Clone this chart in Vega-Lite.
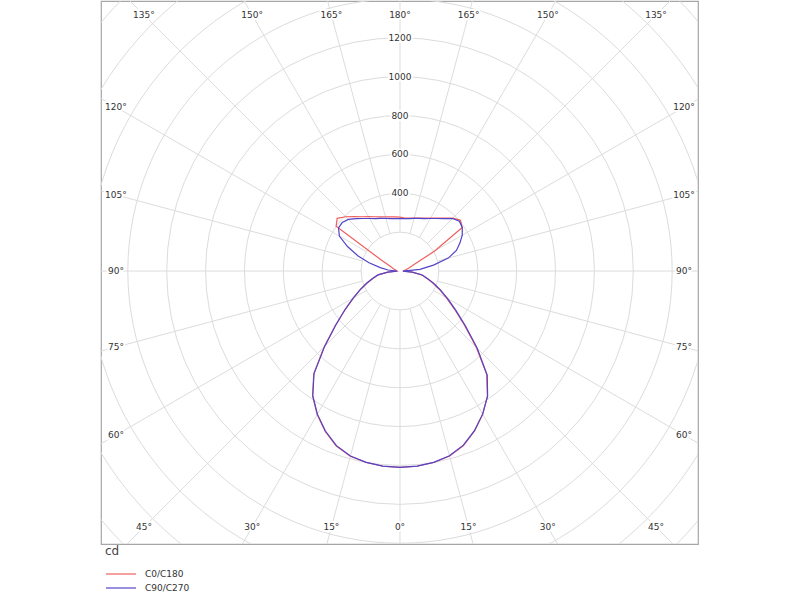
{
  "$schema": "https://vega.github.io/schema/vega-lite/v6.json",
  "width": 597,
  "height": 543,
  "autosize": {"type": "none"},
  "padding": {"left": 101, "top": 1, "right": 102, "bottom": 56},
  "background": "white",
  "config": {"view": {"stroke": "#a6a6a6", "strokeWidth": 1.2}, "font": "DejaVu Sans"},
  "datasets": {
    "rings": [{"r": 200}, {"r": 400}, {"r": 600}, {"r": 800}, {"r": 1000}, {"r": 1200}, {"r": 1400}, {"r": 1600}, {"r": 1800}, {"r": 2000}],
    "ringLabels": [{"r": 400}, {"r": 600}, {"r": 800}, {"r": 1000}, {"r": 1200}],
    "spokes": [{"a": -165}, {"a": -150}, {"a": -135}, {"a": -120}, {"a": -105}, {"a": -90}, {"a": -75}, {"a": -60}, {"a": -45}, {"a": -30}, {"a": -15}, {"a": 0}, {"a": 15}, {"a": 30}, {"a": 45}, {"a": 60}, {"a": 75}, {"a": 90}, {"a": 105}, {"a": 120}, {"a": 135}, {"a": 150}, {"a": 165}, {"a": 180}],
    "curves": [
      {"series": "C0/C180", "gamma": -180, "cd": 277}, {"series": "C0/C180", "gamma": -175, "cd": 280}, {"series": "C0/C180", "gamma": -170, "cd": 283}, {"series": "C0/C180", "gamma": -165, "cd": 289}, {"series": "C0/C180", "gamma": -160, "cd": 297}, {"series": "C0/C180", "gamma": -155, "cd": 308}, {"series": "C0/C180", "gamma": -150, "cd": 323}, {"series": "C0/C180", "gamma": -145, "cd": 341}, {"series": "C0/C180", "gamma": -140, "cd": 365}, {"series": "C0/C180", "gamma": -135, "cd": 395}, {"series": "C0/C180", "gamma": -130, "cd": 422}, {"series": "C0/C180", "gamma": -125, "cd": 401}, {"series": "C0/C180", "gamma": -120, "cd": 103}, {"series": "C0/C180", "gamma": -115, "cd": 51}, {"series": "C0/C180", "gamma": -110, "cd": 36}, {"series": "C0/C180", "gamma": -105, "cd": 26}, {"series": "C0/C180", "gamma": -100, "cd": 21}, {"series": "C0/C180", "gamma": -95, "cd": 18}, {"series": "C0/C180", "gamma": -90, "cd": 15},
      {"series": "C0/C180", "gamma": -85, "cd": 62}, {"series": "C0/C180", "gamma": -80, "cd": 113}, {"series": "C0/C180", "gamma": -75, "cd": 142}, {"series": "C0/C180", "gamma": -70, "cd": 180}, {"series": "C0/C180", "gamma": -65, "cd": 224}, {"series": "C0/C180", "gamma": -60, "cd": 276}, {"series": "C0/C180", "gamma": -55, "cd": 343}, {"series": "C0/C180", "gamma": -50, "cd": 432}, {"series": "C0/C180", "gamma": -45, "cd": 552}, {"series": "C0/C180", "gamma": -40, "cd": 690}, {"series": "C0/C180", "gamma": -35, "cd": 784}, {"series": "C0/C180", "gamma": -30, "cd": 852}, {"series": "C0/C180", "gamma": -25, "cd": 910}, {"series": "C0/C180", "gamma": -20, "cd": 958}, {"series": "C0/C180", "gamma": -15, "cd": 986}, {"series": "C0/C180", "gamma": -10, "cd": 1000}, {"series": "C0/C180", "gamma": -5, "cd": 1008}, {"series": "C0/C180", "gamma": 0, "cd": 1010},
      {"series": "C0/C180", "gamma": 5, "cd": 1008}, {"series": "C0/C180", "gamma": 10, "cd": 1000}, {"series": "C0/C180", "gamma": 15, "cd": 985}, {"series": "C0/C180", "gamma": 20, "cd": 955}, {"series": "C0/C180", "gamma": 25, "cd": 908}, {"series": "C0/C180", "gamma": 30, "cd": 851}, {"series": "C0/C180", "gamma": 35, "cd": 784}, {"series": "C0/C180", "gamma": 40, "cd": 694}, {"series": "C0/C180", "gamma": 45, "cd": 555}, {"series": "C0/C180", "gamma": 50, "cd": 432}, {"series": "C0/C180", "gamma": 55, "cd": 343}, {"series": "C0/C180", "gamma": 60, "cd": 276}, {"series": "C0/C180", "gamma": 65, "cd": 224}, {"series": "C0/C180", "gamma": 70, "cd": 180}, {"series": "C0/C180", "gamma": 75, "cd": 142}, {"series": "C0/C180", "gamma": 80, "cd": 113}, {"series": "C0/C180", "gamma": 85, "cd": 62}, {"series": "C0/C180", "gamma": 90, "cd": 15},
      {"series": "C0/C180", "gamma": 95, "cd": 20}, {"series": "C0/C180", "gamma": 100, "cd": 26}, {"series": "C0/C180", "gamma": 105, "cd": 36}, {"series": "C0/C180", "gamma": 110, "cd": 51}, {"series": "C0/C180", "gamma": 115, "cd": 82}, {"series": "C0/C180", "gamma": 120, "cd": 206}, {"series": "C0/C180", "gamma": 125, "cd": 391}, {"series": "C0/C180", "gamma": 130, "cd": 406}, {"series": "C0/C180", "gamma": 135, "cd": 385}, {"series": "C0/C180", "gamma": 140, "cd": 356}, {"series": "C0/C180", "gamma": 145, "cd": 333}, {"series": "C0/C180", "gamma": 150, "cd": 315}, {"series": "C0/C180", "gamma": 155, "cd": 301}, {"series": "C0/C180", "gamma": 160, "cd": 290}, {"series": "C0/C180", "gamma": 165, "cd": 282}, {"series": "C0/C180", "gamma": 170, "cd": 277}, {"series": "C0/C180", "gamma": 175, "cd": 274}, {"series": "C0/C180", "gamma": 180, "cd": 277},
      {"series": "C90/C270", "gamma": -180, "cd": 270}, {"series": "C90/C270", "gamma": -175, "cd": 271}, {"series": "C90/C270", "gamma": -170, "cd": 274}, {"series": "C90/C270", "gamma": -165, "cd": 280}, {"series": "C90/C270", "gamma": -160, "cd": 288}, {"series": "C90/C270", "gamma": -155, "cd": 298}, {"series": "C90/C270", "gamma": -150, "cd": 312}, {"series": "C90/C270", "gamma": -145, "cd": 330}, {"series": "C90/C270", "gamma": -140, "cd": 352}, {"series": "C90/C270", "gamma": -135, "cd": 376}, {"series": "C90/C270", "gamma": -130, "cd": 388}, {"series": "C90/C270", "gamma": -125, "cd": 386}, {"series": "C90/C270", "gamma": -120, "cd": 360}, {"series": "C90/C270", "gamma": -115, "cd": 298}, {"series": "C90/C270", "gamma": -110, "cd": 231}, {"series": "C90/C270", "gamma": -105, "cd": 165}, {"series": "C90/C270", "gamma": -100, "cd": 103}, {"series": "C90/C270", "gamma": -95, "cd": 62}, {"series": "C90/C270", "gamma": -90, "cd": 15},
      {"series": "C90/C270", "gamma": -85, "cd": 64}, {"series": "C90/C270", "gamma": -80, "cd": 115}, {"series": "C90/C270", "gamma": -75, "cd": 145}, {"series": "C90/C270", "gamma": -70, "cd": 183}, {"series": "C90/C270", "gamma": -65, "cd": 226}, {"series": "C90/C270", "gamma": -60, "cd": 278}, {"series": "C90/C270", "gamma": -55, "cd": 345}, {"series": "C90/C270", "gamma": -50, "cd": 430}, {"series": "C90/C270", "gamma": -45, "cd": 548}, {"series": "C90/C270", "gamma": -40, "cd": 688}, {"series": "C90/C270", "gamma": -35, "cd": 782}, {"series": "C90/C270", "gamma": -30, "cd": 850}, {"series": "C90/C270", "gamma": -25, "cd": 908}, {"series": "C90/C270", "gamma": -20, "cd": 956}, {"series": "C90/C270", "gamma": -15, "cd": 985}, {"series": "C90/C270", "gamma": -10, "cd": 999}, {"series": "C90/C270", "gamma": -5, "cd": 1007}, {"series": "C90/C270", "gamma": 0, "cd": 1010},
      {"series": "C90/C270", "gamma": 5, "cd": 1007}, {"series": "C90/C270", "gamma": 10, "cd": 999}, {"series": "C90/C270", "gamma": 15, "cd": 984}, {"series": "C90/C270", "gamma": 20, "cd": 953}, {"series": "C90/C270", "gamma": 25, "cd": 906}, {"series": "C90/C270", "gamma": 30, "cd": 850}, {"series": "C90/C270", "gamma": 35, "cd": 786}, {"series": "C90/C270", "gamma": 40, "cd": 698}, {"series": "C90/C270", "gamma": 45, "cd": 562}, {"series": "C90/C270", "gamma": 50, "cd": 440}, {"series": "C90/C270", "gamma": 55, "cd": 350}, {"series": "C90/C270", "gamma": 60, "cd": 282}, {"series": "C90/C270", "gamma": 65, "cd": 229}, {"series": "C90/C270", "gamma": 70, "cd": 184}, {"series": "C90/C270", "gamma": 75, "cd": 146}, {"series": "C90/C270", "gamma": 80, "cd": 116}, {"series": "C90/C270", "gamma": 85, "cd": 64}, {"series": "C90/C270", "gamma": 90, "cd": 15},
      {"series": "C90/C270", "gamma": 95, "cd": 103}, {"series": "C90/C270", "gamma": 100, "cd": 175}, {"series": "C90/C270", "gamma": 105, "cd": 257}, {"series": "C90/C270", "gamma": 110, "cd": 309}, {"series": "C90/C270", "gamma": 115, "cd": 340}, {"series": "C90/C270", "gamma": 120, "cd": 370}, {"series": "C90/C270", "gamma": 125, "cd": 391}, {"series": "C90/C270", "gamma": 130, "cd": 399}, {"series": "C90/C270", "gamma": 135, "cd": 382}, {"series": "C90/C270", "gamma": 140, "cd": 352}, {"series": "C90/C270", "gamma": 145, "cd": 330}, {"series": "C90/C270", "gamma": 150, "cd": 312}, {"series": "C90/C270", "gamma": 155, "cd": 298}, {"series": "C90/C270", "gamma": 160, "cd": 288}, {"series": "C90/C270", "gamma": 165, "cd": 280}, {"series": "C90/C270", "gamma": 170, "cd": 274}, {"series": "C90/C270", "gamma": 175, "cd": 271}, {"series": "C90/C270", "gamma": 180, "cd": 270}
    ]
  },
  "layer": [
    {
      "data": {"name": "rings"},
      "mark": {"type": "arc", "theta": 0, "theta2": 6.2832, "filled": false, "stroke": "#dcdcdc", "strokeWidth": 1, "clip": true},
      "encoding": {
        "x": {"datum": 0, "type": "quantitative", "scale": {"domain": [-1538, 1533], "nice": false, "zero": false}, "axis": null},
        "y": {"datum": 0, "type": "quantitative", "scale": {"domain": [-1404, 1389], "nice": false, "zero": false}, "axis": null},
        "radius": {"field": "r", "type": "quantitative", "stack": null, "scale": {"type": "linear", "domain": [0, 1538], "range": [0, 299]}, "legend": null}
      }
    },
    {
      "data": {"name": "spokes"},
      "transform": [
        {"calculate": "datum.a*PI/180", "as": "rad"},
        {"calculate": "200*sin(datum.rad)", "as": "x"},
        {"calculate": "-200*cos(datum.rad)", "as": "y"},
        {"calculate": "2600*sin(datum.rad)", "as": "xe"},
        {"calculate": "-2600*cos(datum.rad)", "as": "ye"}
      ],
      "mark": {"type": "rule", "stroke": "#dcdcdc", "strokeWidth": 1, "clip": true},
      "encoding": {
        "x": {"field": "x", "type": "quantitative", "scale": {"domain": [-1538, 1533], "nice": false, "zero": false}, "axis": null},
        "y": {"field": "y", "type": "quantitative", "scale": {"domain": [-1404, 1389], "nice": false, "zero": false}, "axis": null},
        "x2": {"field": "xe"},
        "y2": {"field": "ye"}
      }
    },
    {
      "data": {"name": "ringLabels"},
      "mark": {"type": "text", "fontSize": 9, "font": "DejaVu Sans", "fill": "white", "stroke": "white", "strokeWidth": 4, "align": "center", "baseline": "middle"},
      "encoding": {
        "x": {"datum": 0, "type": "quantitative", "scale": {"domain": [-1538, 1533], "nice": false, "zero": false}, "axis": null},
        "y": {"field": "r", "type": "quantitative", "scale": {"domain": [-1404, 1389], "nice": false, "zero": false}, "axis": null},
        "text": {"field": "r", "type": "quantitative", "format": "d"}
      }
    },
    {
      "data": {"name": "ringLabels"},
      "mark": {"type": "text", "fontSize": 9, "font": "DejaVu Sans", "fill": "#333333", "align": "center", "baseline": "middle"},
      "encoding": {
        "x": {"datum": 0, "type": "quantitative", "scale": {"domain": [-1538, 1533], "nice": false, "zero": false}, "axis": null},
        "y": {"field": "r", "type": "quantitative", "scale": {"domain": [-1404, 1389], "nice": false, "zero": false}, "axis": null},
        "text": {"field": "r", "type": "quantitative", "format": "d"}
      }
    },
    {
      "data": {"name": "spokes"},
      "transform": [
        {"calculate": "datum.a*PI/180", "as": "rad"},
        {"calculate": "min(1461/abs(sin(datum.rad)), 1317/abs(cos(datum.rad)))", "as": "t"},
        {"calculate": "datum.t*sin(datum.rad)", "as": "lx"},
        {"calculate": "-datum.t*cos(datum.rad)", "as": "ly"},
        {"calculate": "abs(datum.a) + '°'", "as": "label"}
      ],
      "layer": [
        {"mark": {"type": "text", "fontSize": 9, "font": "DejaVu Sans", "fill": "white", "stroke": "white", "strokeWidth": 4, "align": "center", "baseline": "middle"}},
        {"mark": {"type": "text", "fontSize": 9, "font": "DejaVu Sans", "fill": "#333333", "align": "center", "baseline": "middle"}}
      ],
      "encoding": {
        "x": {"field": "lx", "type": "quantitative", "scale": {"domain": [-1538, 1533], "nice": false, "zero": false}, "axis": null},
        "y": {"field": "ly", "type": "quantitative", "scale": {"domain": [-1404, 1389], "nice": false, "zero": false}, "axis": null},
        "text": {"field": "label", "type": "nominal"}
      }
    },
    {
      "data": {"name": "curves"},
      "transform": [
        {"calculate": "datum.cd*sin(datum.gamma*PI/180)", "as": "x"},
        {"calculate": "-datum.cd*cos(datum.gamma*PI/180)", "as": "y"}
      ],
      "mark": {"type": "line", "strokeWidth": 1.2, "clip": true},
      "encoding": {
        "x": {"field": "x", "type": "quantitative", "scale": {"domain": [-1538, 1533], "nice": false, "zero": false}, "axis": null},
        "y": {"field": "y", "type": "quantitative", "scale": {"domain": [-1404, 1389], "nice": false, "zero": false}, "axis": null},
        "order": {"field": "gamma", "type": "quantitative"},
        "color": {
          "field": "series", "type": "nominal",
          "scale": {"domain": ["C0/C180", "C90/C270"], "range": ["#ee5f5f", "#5244c9"]},
          "legend": {
            "orient": "none", "legendX": 4, "legendY": 545, "title": "cd",
            "titleFont": "DejaVu Sans", "titleFontSize": 12, "titleFontWeight": "normal", "titleColor": "#444444", "titlePadding": 10,
            "labelFont": "DejaVu Sans", "labelFontSize": 9, "labelColor": "#333333", "labelOffset": 28,
            "symbolType": "M-1,0H5", "symbolSize": 100, "symbolStrokeWidth": 1.2, "symbolFillColor": "transparent", "rowPadding": 3, "padding": 0
          }
        }
      }
    }
  ]
}
